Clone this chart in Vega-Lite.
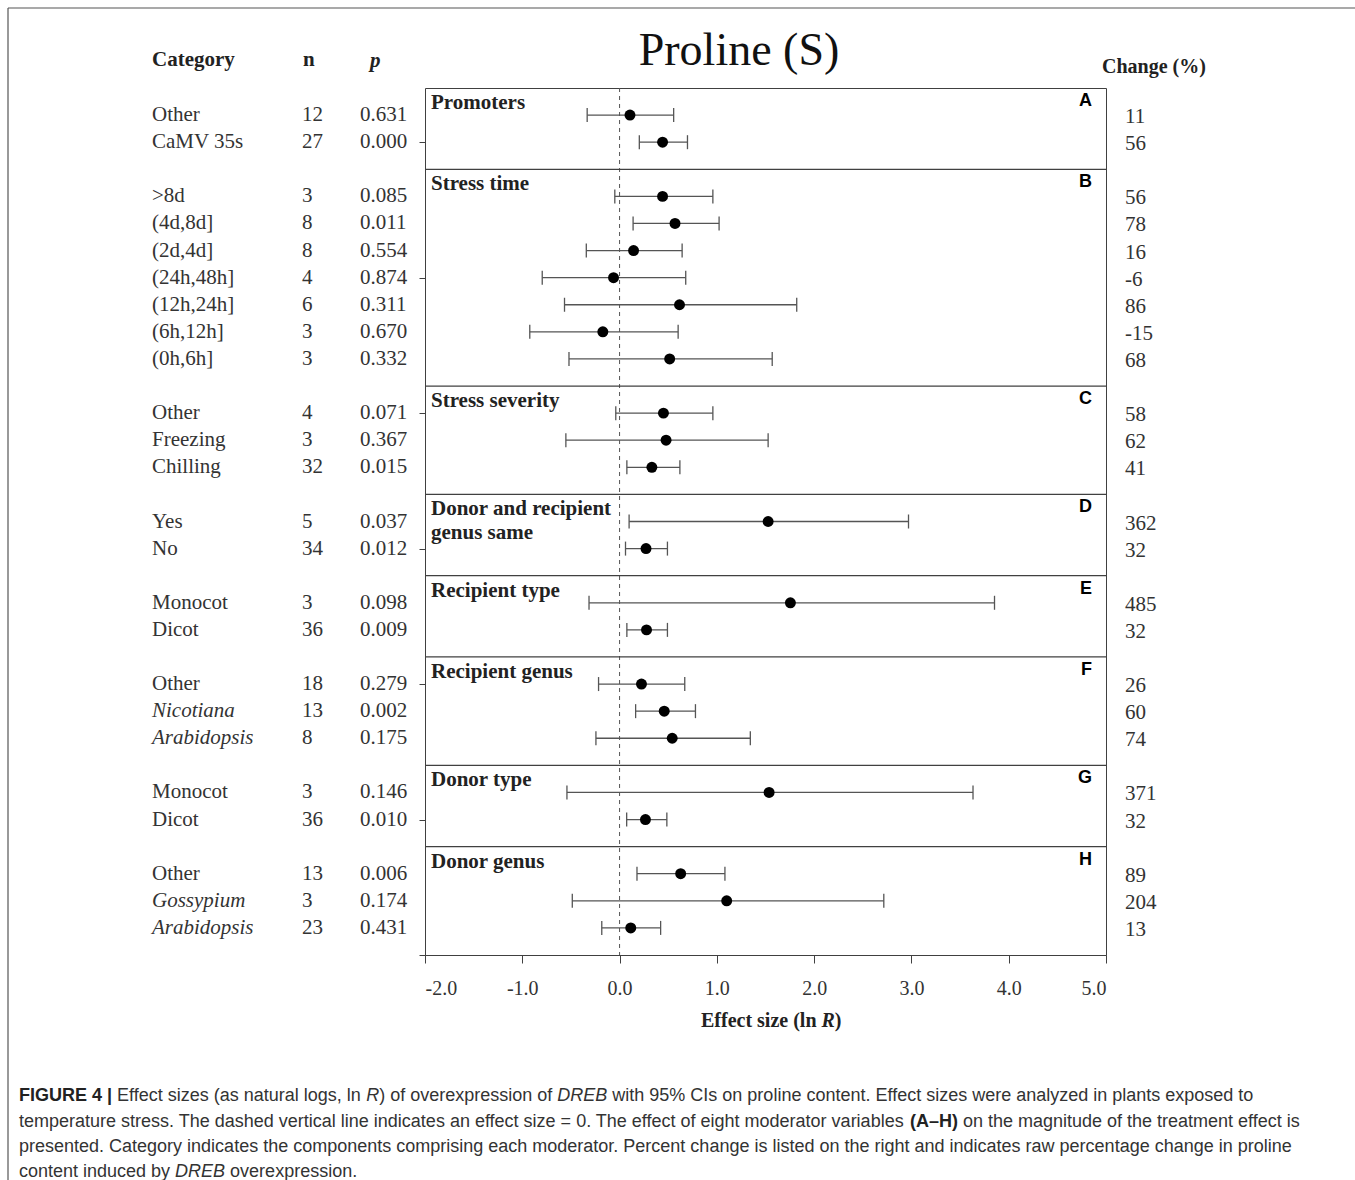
{
  "$schema": "https://vega.github.io/schema/vega-lite/v6.json",
  "width": 681,
  "height": 867,
  "autosize": {"type": "none"},
  "padding": {"left": 425, "top": 88, "right": 249, "bottom": 225},
  "background": "white",
  "config": {
    "view": {"stroke": "#404040", "strokeWidth": 1},
    "font": "Liberation Serif"
  },
  "datasets": {
    "rows": [
      {"panel": "A", "pos": 1, "cat": "Other", "ital": false, "n": "12", "p": "0.631", "chg": "11", "lo": -0.333, "es": 0.107, "hi": 0.556},
      {"panel": "A", "pos": 2, "cat": "CaMV 35s", "ital": false, "n": "27", "p": "0.000", "chg": "56", "lo": 0.203, "es": 0.442, "hi": 0.698},
      {"panel": "B", "pos": 4, "cat": ">8d", "ital": false, "n": "3", "p": "0.085", "chg": "56", "lo": -0.049, "es": 0.442, "hi": 0.959},
      {"panel": "B", "pos": 5, "cat": "(4d,8d]", "ital": false, "n": "8", "p": "0.011", "chg": "78", "lo": 0.139, "es": 0.570, "hi": 1.023},
      {"panel": "B", "pos": 6, "cat": "(2d,4d]", "ital": false, "n": "8", "p": "0.554", "chg": "16", "lo": -0.342, "es": 0.144, "hi": 0.643},
      {"panel": "B", "pos": 7, "cat": "(24h,48h]", "ital": false, "n": "4", "p": "0.874", "chg": "-6", "lo": -0.795, "es": -0.062, "hi": 0.680},
      {"panel": "B", "pos": 8, "cat": "(12h,24h]", "ital": false, "n": "6", "p": "0.311", "chg": "86", "lo": -0.566, "es": 0.616, "hi": 1.821},
      {"panel": "B", "pos": 9, "cat": "(6h,12h]", "ital": false, "n": "3", "p": "0.670", "chg": "-15", "lo": -0.923, "es": -0.172, "hi": 0.602},
      {"panel": "B", "pos": 10, "cat": "(0h,6h]", "ital": false, "n": "3", "p": "0.332", "chg": "68", "lo": -0.520, "es": 0.515, "hi": 1.569},
      {"panel": "C", "pos": 12, "cat": "Other", "ital": false, "n": "4", "p": "0.071", "chg": "58", "lo": -0.039, "es": 0.451, "hi": 0.959},
      {"panel": "C", "pos": 13, "cat": "Freezing", "ital": false, "n": "3", "p": "0.367", "chg": "62", "lo": -0.552, "es": 0.478, "hi": 1.527},
      {"panel": "C", "pos": 14, "cat": "Chilling", "ital": false, "n": "32", "p": "0.015", "chg": "41", "lo": 0.075, "es": 0.332, "hi": 0.620},
      {"panel": "D", "pos": 16, "cat": "Yes", "ital": false, "n": "5", "p": "0.037", "chg": "362", "lo": 0.098, "es": 1.527, "hi": 2.970},
      {"panel": "D", "pos": 17, "cat": "No", "ital": false, "n": "34", "p": "0.012", "chg": "32", "lo": 0.061, "es": 0.272, "hi": 0.492},
      {"panel": "E", "pos": 19, "cat": "Monocot", "ital": false, "n": "3", "p": "0.098", "chg": "485", "lo": -0.314, "es": 1.756, "hi": 3.854},
      {"panel": "E", "pos": 20, "cat": "Dicot", "ital": false, "n": "36", "p": "0.009", "chg": "32", "lo": 0.075, "es": 0.277, "hi": 0.492},
      {"panel": "F", "pos": 22, "cat": "Other", "ital": false, "n": "18", "p": "0.279", "chg": "26", "lo": -0.216, "es": 0.225, "hi": 0.670},
      {"panel": "F", "pos": 23, "cat": "Nicotiana", "ital": true, "n": "13", "p": "0.002", "chg": "60", "lo": 0.165, "es": 0.459, "hi": 0.780},
      {"panel": "F", "pos": 24, "cat": "Arabidopsis", "ital": true, "n": "8", "p": "0.175", "chg": "74", "lo": -0.243, "es": 0.541, "hi": 1.344},
      {"panel": "G", "pos": 26, "cat": "Monocot", "ital": false, "n": "3", "p": "0.146", "chg": "371", "lo": -0.541, "es": 1.537, "hi": 3.633},
      {"panel": "G", "pos": 27, "cat": "Dicot", "ital": false, "n": "36", "p": "0.010", "chg": "32", "lo": 0.073, "es": 0.266, "hi": 0.486},
      {"panel": "H", "pos": 29, "cat": "Other", "ital": false, "n": "13", "p": "0.006", "chg": "89", "lo": 0.179, "es": 0.628, "hi": 1.083},
      {"panel": "H", "pos": 30, "cat": "Gossypium", "ital": true, "n": "3", "p": "0.174", "chg": "204", "lo": -0.486, "es": 1.101, "hi": 2.716},
      {"panel": "H", "pos": 31, "cat": "Arabidopsis", "ital": true, "n": "23", "p": "0.431", "chg": "13", "lo": -0.183, "es": 0.115, "hi": 0.422}
    ],
    "panels": [
      {"letter": "A", "top": 0, "name": "Promoters"},
      {"letter": "B", "top": 3, "name": "Stress time"},
      {"letter": "C", "top": 11, "name": "Stress severity"},
      {"letter": "D", "top": 15, "name": "Donor and recipient\ngenus same"},
      {"letter": "E", "top": 18, "name": "Recipient type"},
      {"letter": "F", "top": 21, "name": "Recipient genus"},
      {"letter": "G", "top": 25, "name": "Donor type"},
      {"letter": "H", "top": 28, "name": "Donor genus"}
    ],
    "caption": [
      {"t": "FIGURE 4 |", "xp": -406, "yp": 1008, "s": "bold"},
      {"t": "Effect sizes (as natural logs, ln", "xp": -307.9, "yp": 1008, "s": "reg"},
      {"t": "R", "xp": -58.8, "yp": 1008, "s": "ital"},
      {"t": ") of overexpression of", "xp": -45.8, "yp": 1008, "s": "reg"},
      {"t": "DREB", "xp": 132.3, "yp": 1008, "s": "ital"},
      {"t": "with 95% CIs on proline content. Effect sizes were analyzed in plants exposed to", "xp": 187.3, "yp": 1008, "s": "reg"},
      {"t": "temperature stress. The dashed vertical line indicates an effect size = 0. The effect of eight moderator variables", "xp": -406, "yp": 1034, "s": "reg"},
      {"t": "(A–H)", "xp": 484.9, "yp": 1034, "s": "bold"},
      {"t": "on the magnitude of the treatment effect is", "xp": 537.9, "yp": 1034, "s": "reg"},
      {"t": "presented. Category indicates the components comprising each moderator. Percent change is listed on the right and indicates raw percentage change in proline", "xp": -406, "yp": 1059, "s": "reg"},
      {"t": "content induced by", "xp": -406, "yp": 1084, "s": "reg"},
      {"t": "DREB", "xp": -249.9, "yp": 1084, "s": "ital"},
      {"t": "overexpression.", "xp": -194.9, "yp": 1084, "s": "reg"}
    ]
  },
  "layer": [
    {
      "data": {"values": [{"z": 0}]},
      "mark": {"type": "rule", "strokeDash": [4, 4], "color": "#555555", "strokeWidth": 1},
      "encoding": {
        "x": {"field": "z", "type": "quantitative", "scale": {"domain": [-2, 5], "nice": false, "zero": false},
          "axis": {"values": [-2, -1, 0, 1, 2, 3, 4, 5], "labelExpr": "replace(format(datum.value, '.1f'), '\u2212', '-')", "labelFont": "Liberation Serif", "labelFontSize": 20, "labelColor": "#333333", "labelPadding": 15, "tickSize": 8, "tickColor": "#404040", "domainColor": "#404040", "grid": false, "title": null}}
      }
    },
    {
      "data": {"name": "panels"},
      "transform": [{"filter": "datum.top > 0"}],
      "mark": {"type": "rule", "color": "#404040", "strokeWidth": 1.2},
      "encoding": {
        "y": {"field": "top", "type": "quantitative", "scale": {"domain": [0, 32], "reverse": true, "nice": false, "zero": false},
          "axis": {"values": [2, 7, 12, 17, 22, 27, 32], "labels": false, "tickSize": 6, "tickColor": "#404040", "domain": false, "grid": false, "title": null}}
      }
    },
    {
      "data": {"name": "rows"},
      "mark": {"type": "rule", "color": "#555555", "strokeWidth": 1.3},
      "encoding": {
        "x": {"field": "lo", "type": "quantitative"},
        "x2": {"field": "hi"},
        "y": {"field": "pos", "type": "quantitative"}
      }
    },
    {
      "data": {"name": "rows"},
      "mark": {"type": "rule", "color": "#555555", "strokeWidth": 1.3, "yOffset": -7, "y2Offset": 7},
      "encoding": {
        "x": {"field": "lo", "type": "quantitative"},
        "y": {"field": "pos", "type": "quantitative"},
        "y2": {"field": "pos"}
      }
    },
    {
      "data": {"name": "rows"},
      "mark": {"type": "rule", "color": "#555555", "strokeWidth": 1.3, "yOffset": -7, "y2Offset": 7},
      "encoding": {
        "x": {"field": "hi", "type": "quantitative"},
        "y": {"field": "pos", "type": "quantitative"},
        "y2": {"field": "pos"}
      }
    },
    {
      "data": {"name": "rows"},
      "mark": {"type": "circle", "color": "#000000", "opacity": 1, "size": 120},
      "encoding": {
        "x": {"field": "es", "type": "quantitative"},
        "y": {"field": "pos", "type": "quantitative"}
      }
    },
    {
      "data": {"name": "rows"},
      "transform": [{"filter": "!datum.ital"}],
      "mark": {"type": "text", "align": "left", "baseline": "middle", "font": "Liberation Serif", "fontSize": 21, "color": "#333333"},
      "encoding": {
        "x": {"value": -273},
        "y": {"field": "pos", "type": "quantitative"},
        "text": {"field": "cat"}
      }
    },
    {
      "data": {"name": "rows"},
      "transform": [{"filter": "datum.ital"}],
      "mark": {"type": "text", "align": "left", "baseline": "middle", "font": "Liberation Serif", "fontSize": 21, "fontStyle": "italic", "color": "#333333"},
      "encoding": {
        "x": {"value": -273},
        "y": {"field": "pos", "type": "quantitative"},
        "text": {"field": "cat"}
      }
    },
    {
      "data": {"name": "rows"},
      "mark": {"type": "text", "align": "left", "baseline": "middle", "font": "Liberation Serif", "fontSize": 21, "color": "#333333"},
      "encoding": {
        "x": {"value": -123},
        "y": {"field": "pos", "type": "quantitative"},
        "text": {"field": "n"}
      }
    },
    {
      "data": {"name": "rows"},
      "mark": {"type": "text", "align": "left", "baseline": "middle", "font": "Liberation Serif", "fontSize": 21, "color": "#333333"},
      "encoding": {
        "x": {"value": -65},
        "y": {"field": "pos", "type": "quantitative"},
        "text": {"field": "p"}
      }
    },
    {
      "data": {"name": "rows"},
      "mark": {"type": "text", "align": "left", "baseline": "middle", "font": "Liberation Serif", "fontSize": 21, "color": "#333333", "dy": 2},
      "encoding": {
        "x": {"value": 700},
        "y": {"field": "pos", "type": "quantitative"},
        "text": {"field": "chg"}
      }
    },
    {
      "data": {"name": "panels"},
      "mark": {"type": "text", "align": "left", "baseline": "top", "font": "Liberation Serif", "fontSize": 21, "fontWeight": "bold", "color": "#222222", "lineBreak": "\n", "lineHeight": 24, "dx": 6, "dy": 4},
      "encoding": {
        "x": {"value": 0},
        "y": {"field": "top", "type": "quantitative"},
        "text": {"field": "name"}
      }
    },
    {
      "data": {"name": "panels"},
      "mark": {"type": "text", "align": "right", "baseline": "top", "font": "Liberation Sans", "fontSize": 18, "fontWeight": "bold", "color": "#000000", "dy": 4},
      "encoding": {
        "x": {"value": 667},
        "y": {"field": "top", "type": "quantitative"},
        "text": {"field": "letter"}
      }
    },
    {
      "data": {"values": [
        {"t": "Category", "xp": -273, "yp": -28, "fs": 21},
        {"t": "n", "xp": -122, "yp": -28, "fs": 21},
        {"t": "Change (%)", "xp": 677, "yp": -21, "fs": 20}
      ]},
      "mark": {"type": "text", "align": "left", "baseline": "middle", "font": "Liberation Serif", "fontSize": 21, "fontWeight": "bold", "color": "#222222"},
      "encoding": {
        "x": {"field": "xp", "type": "quantitative", "scale": null},
        "y": {"field": "yp", "type": "quantitative", "scale": null},
        "size": {"field": "fs", "type": "quantitative", "scale": null, "legend": null},
        "text": {"field": "t"}
      }
    },
    {
      "data": {"values": [{"t": "p"}]},
      "mark": {"type": "text", "align": "left", "baseline": "middle", "font": "Liberation Serif", "fontSize": 21, "fontWeight": "bold", "fontStyle": "italic", "color": "#222222"},
      "encoding": {
        "x": {"value": -55},
        "y": {"value": -27},
        "text": {"field": "t"}
      }
    },
    {
      "data": {"values": [{"t": "Proline (S)"}]},
      "mark": {"type": "text", "align": "center", "baseline": "middle", "font": "Liberation Serif", "fontSize": 46, "color": "#111111"},
      "encoding": {
        "x": {"value": 314},
        "y": {"value": -37},
        "text": {"field": "t"}
      }
    },
    {
      "data": {"values": [{"t": "Effect size (ln", "xp": 276}, {"t": ")", "xp": 409.8}]},
      "mark": {"type": "text", "align": "left", "baseline": "middle", "font": "Liberation Serif", "fontSize": 20, "fontWeight": "bold", "color": "#222222"},
      "encoding": {
        "x": {"field": "xp", "type": "quantitative", "scale": null},
        "y": {"value": 933},
        "text": {"field": "t"}
      }
    },
    {
      "data": {"values": [{"t": "R", "xp": 396.5}]},
      "mark": {"type": "text", "align": "left", "baseline": "middle", "font": "Liberation Serif", "fontSize": 20, "fontWeight": "bold", "fontStyle": "italic", "color": "#222222"},
      "encoding": {
        "x": {"field": "xp", "type": "quantitative", "scale": null},
        "y": {"value": 933},
        "text": {"field": "t"}
      }
    },
    {
      "data": {"name": "caption"},
      "transform": [{"filter": "datum.s == 'reg'"}],
      "mark": {"type": "text", "align": "left", "baseline": "middle", "font": "Liberation Sans", "fontSize": 18, "color": "#333333"},
      "encoding": {
        "x": {"field": "xp", "type": "quantitative", "scale": null},
        "y": {"field": "yp", "type": "quantitative", "scale": null},
        "text": {"field": "t"}
      }
    },
    {
      "data": {"name": "caption"},
      "transform": [{"filter": "datum.s == 'ital'"}],
      "mark": {"type": "text", "align": "left", "baseline": "middle", "font": "Liberation Sans", "fontSize": 18, "fontStyle": "italic", "color": "#333333"},
      "encoding": {
        "x": {"field": "xp", "type": "quantitative", "scale": null},
        "y": {"field": "yp", "type": "quantitative", "scale": null},
        "text": {"field": "t"}
      }
    },
    {
      "data": {"name": "caption"},
      "transform": [{"filter": "datum.s == 'bold'"}],
      "mark": {"type": "text", "align": "left", "baseline": "middle", "font": "Liberation Sans", "fontSize": 18, "fontWeight": "bold", "color": "#222222"},
      "encoding": {
        "x": {"field": "xp", "type": "quantitative", "scale": null},
        "y": {"field": "yp", "type": "quantitative", "scale": null},
        "text": {"field": "t"}
      }
    },
    {
      "data": {"values": [{"a": 1}]},
      "mark": {"type": "rule", "color": "#555555", "strokeWidth": 1.2},
      "encoding": {
        "x": {"value": -417},
        "x2": {"value": 930},
        "y": {"value": -80}
      }
    },
    {
      "data": {"values": [{"a": 1}]},
      "mark": {"type": "rule", "color": "#555555", "strokeWidth": 1.2},
      "encoding": {
        "x": {"value": -417},
        "y": {"value": -80},
        "y2": {"value": 1092}
      }
    }
  ]
}
